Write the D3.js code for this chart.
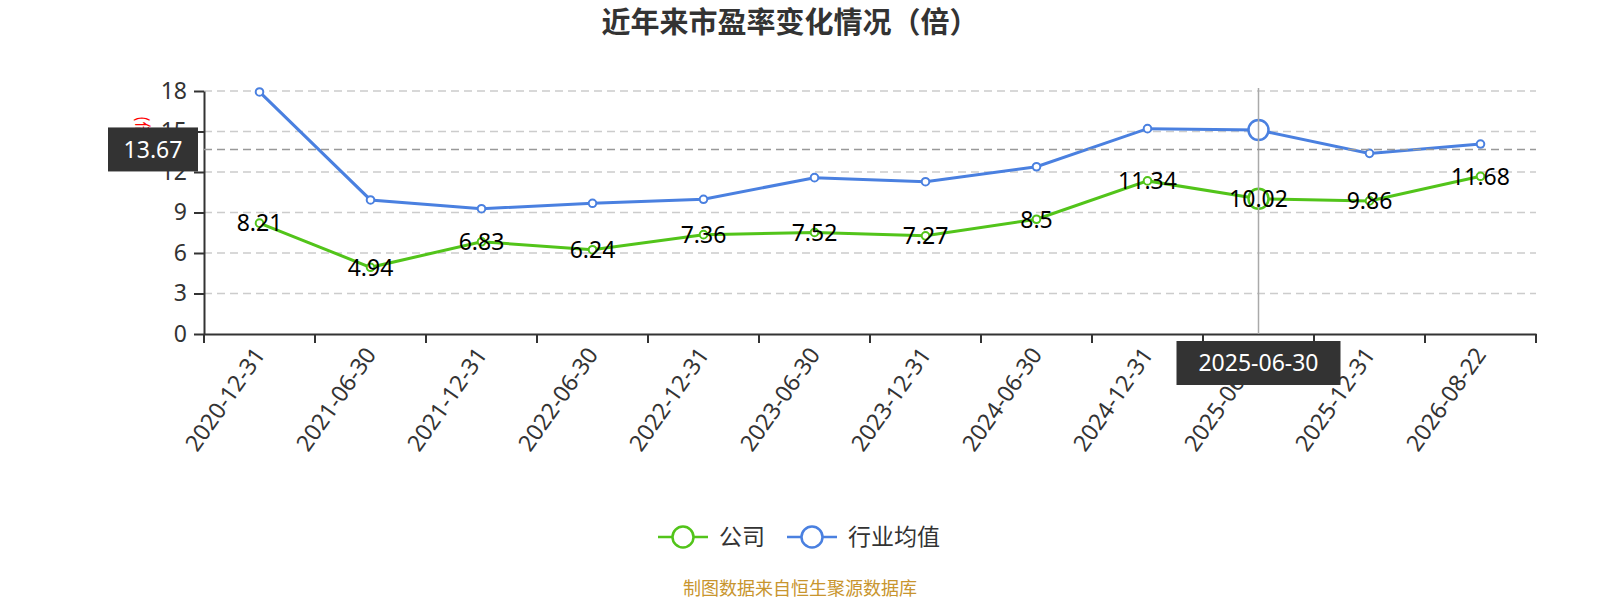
<!DOCTYPE html>
<html>
<head>
<meta charset="utf-8">
<script src="https://cdn.jsdelivr.net/npm/d3@7/dist/d3.min.js"></script>
<style>
  html, body { margin: 0; padding: 0; background: #fff; }
  svg { display: block; font-family: "Noto Sans CJK SC", "Noto Sans", sans-serif; }
</style>
</head>
<body>
<svg id="chart" width="1600" height="600"></svg>
<script>
// data
var categories = ['2020-12-31','2021-06-30','2021-12-31','2022-06-30','2022-12-31','2023-06-30',
                  '2023-12-31','2024-06-30','2024-12-31','2025-06-30','2025-12-31','2026-08-22'];
var companyPE  = [8.21, 4.94, 6.83, 6.24, 7.36, 7.52, 7.27, 8.5, 11.34, 10.02, 9.86, 11.68];
var industryPE = [17.93, 9.93, 9.28, 9.68, 9.98, 11.58, 11.28, 12.39, 15.21, 15.11, 13.38, 14.07];
var yTicks = [0, 3, 6, 9, 12, 15, 18];
var seriesNames = ['公司', '行业均值'];
var hoverIndex = 9;       // category under the pointer
var pointerValue = 13.67; // y value under the pointer

var green = '#52c41a', blue = '#4a80e0';

var svg = d3.select('#chart');
var plotLeft = 204, plotRight = 1536, plotTop = 91, plotBottom = 334;

var x = d3.scaleBand().domain(categories).range([plotLeft, plotRight]).padding(0);
var y = d3.scaleLinear().domain([0, 18]).range([plotBottom, plotTop]);
var cx = function(d, i) { return x(categories[i]) + x.bandwidth() / 2; };

// title
svg.append('text')
  .attr('x', 790).attr('y', 33)
  .attr('text-anchor', 'middle')
  .style('font-size', '29px').style('font-weight', 'bold').style('fill', '#333')
  .text('近年来市盈率变化情况（倍）');

// y axis name (mostly under the tooltip)
svg.append('text')
  .attr('transform', 'translate(137,116) rotate(90)')
  .style('font-size', '16px').style('fill', 'red')
  .text('(倍)');

// grid
svg.append('g').selectAll('line')
  .data(yTicks.filter(function(d) { return d > 0; }))
  .join('line')
  .attr('x1', plotLeft).attr('x2', plotRight)
  .attr('y1', function(d) { return y(d); }).attr('y2', function(d) { return y(d); })
  .attr('stroke', '#ccc').attr('stroke-width', 1.5).attr('stroke-dasharray', '8,5');

// axes
var yAxis = svg.append('g')
  .attr('transform', 'translate(' + plotLeft + ',0)')
  .call(d3.axisLeft(y).tickValues(yTicks).tickSize(10).tickSizeOuter(0).tickPadding(7));
var xAxis = svg.append('g')
  .attr('transform', 'translate(0,' + plotBottom + ')')
  .call(d3.axisBottom(x).tickSize(0).tickFormat(''));

[yAxis, xAxis].forEach(function(a) {
  a.select('.domain').attr('stroke', '#333').attr('stroke-width', 2);
  a.selectAll('.tick line').attr('stroke', '#333').attr('stroke-width', 2);
});
yAxis.selectAll('.tick text').style('font-size', '23px').style('fill', '#333').style('font-family', '"Noto Sans", sans-serif');

// x ticks on band boundaries
var bounds = categories.map(function(c) { return x(c); }).concat([plotRight]);
svg.append('g').selectAll('line').data(bounds).join('line')
  .attr('x1', function(d) { return d; }).attr('x2', function(d) { return d; })
  .attr('y1', plotBottom).attr('y2', plotBottom + 9)
  .attr('stroke', '#333').attr('stroke-width', 2);

// x labels, rotated
svg.append('g').selectAll('text').data(categories).join('text')
  .attr('transform', function(d, i) { return 'translate(' + cx(d, i) + ',' + (plotBottom + 16) + ') rotate(-55)'; })
  .attr('text-anchor', 'end').attr('dy', '0.35em')
  .style('font-size', '23px').style('fill', '#333').style('font-family', '"Noto Sans", sans-serif')
  .text(function(d) { return d; });

// lines
var line = d3.line().x(cx).y(function(d) { return y(d); });
svg.append('path').datum(industryPE).attr('d', line)
  .attr('fill', 'none').attr('stroke', blue).attr('stroke-width', 3);
svg.append('path').datum(companyPE).attr('d', line)
  .attr('fill', 'none').attr('stroke', green).attr('stroke-width', 3);

// symbols
function symbols(data, col) {
  svg.append('g').selectAll('circle').data(data).join('circle')
    .attr('cx', cx).attr('cy', function(d) { return y(d); })
    .attr('r', function(d, i) { return i === hoverIndex ? 10 : 3.8; })
    .attr('fill', '#fff').attr('stroke', col)
    .attr('stroke-width', function(d, i) { return i === hoverIndex ? 2.5 : 2; });
}
symbols(industryPE, blue);
symbols(companyPE, green);

// crosshair
svg.append('line')
  .attr('x1', cx(null, hoverIndex)).attr('x2', cx(null, hoverIndex))
  .attr('y1', plotTop - 3).attr('y2', plotBottom)
  .attr('stroke', '#aaa').attr('stroke-width', 1.5);
svg.append('line')
  .attr('x1', plotLeft).attr('x2', plotRight)
  .attr('y1', y(pointerValue)).attr('y2', y(pointerValue))
  .attr('stroke', '#999').attr('stroke-width', 1.5).attr('stroke-dasharray', '8,5');

// value labels for company
svg.append('g').selectAll('text').data(companyPE).join('text')
  .attr('x', cx).attr('y', function(d) { return y(d); })
  .attr('text-anchor', 'middle').attr('dy', '0.36em')
  .style('font-size', '23px').style('fill', '#000').style('font-family', '"Noto Sans", sans-serif')
  .text(function(d) { return d; });

// pointer labels
function pointerLabel(px, py, w, h, txt) {
  svg.append('rect').attr('x', px).attr('y', py).attr('width', w).attr('height', h)
    .attr('fill', '#333');
  svg.append('text').attr('x', px + w / 2).attr('y', py + h / 2).attr('dy', '0.36em')
    .attr('text-anchor', 'middle')
    .style('font-size', '23px').style('fill', '#fff').style('font-family', '"Noto Sans", sans-serif')
    .text(txt);
}
pointerLabel(108, y(pointerValue) - 22, 90, 44, pointerValue.toFixed(2));
pointerLabel(cx(null, hoverIndex) - 82, 341, 164, 44, categories[hoverIndex]);

// legend
var legend = svg.append('g');
[[658, seriesNames[0], green], [787, seriesNames[1], blue]].forEach(function(it) {
  var g = legend.append('g').attr('transform', 'translate(' + it[0] + ',537)');
  g.append('line').attr('x1', 0).attr('x2', 50).attr('stroke', it[2]).attr('stroke-width', 2.5);
  g.append('circle').attr('cx', 25).attr('r', 10.5).attr('fill', '#fff').attr('stroke', it[2]).attr('stroke-width', 2.5);
  g.append('text').attr('x', 61).attr('dy', '0.35em')
    .style('font-size', '23px').style('fill', '#333').text(it[1]);
});

// footer
svg.append('text').attr('x', 800).attr('y', 595)
  .attr('text-anchor', 'middle')
  .style('font-size', '18px').style('fill', '#c8952e')
  .text('制图数据来自恒生聚源数据库');
</script>
</body>
</html>
